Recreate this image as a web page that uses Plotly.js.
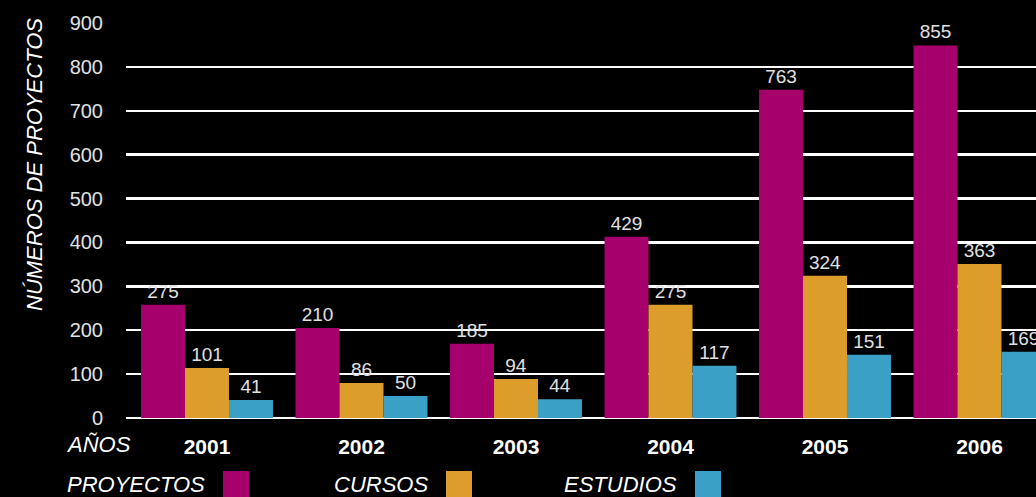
<!DOCTYPE html>
<html>
<head>
<meta charset="utf-8">
<script src="https://cdn.plot.ly/plotly-3.0.1.min.js"></script>
<style>html,body{margin:0;padding:0;background:#000;}</style>
</head>
<body>
<div id="chart" style="width:1036px;height:497px;"></div>
<script>
// Data
const years = ["2001", "2002", "2003", "2004", "2005", "2006"];
const seriesNames = ["PROYECTOS", "CURSOS", "ESTUDIOS"];
// Bar heights as drawn in the picture
const proyectos = [258, 205, 169, 413, 748, 849];
const cursos = [114, 80, 89, 258, 324, 351];
const estudios = [41, 50, 43, 119, 144, 151];
// Value labels printed above the bars
const proyectosLabels = ["275", "210", "185", "429", "763", "855"];
const cursosLabels = ["101", "86", "94", "275", "324", "363"];
const estudiosLabels = ["41", "50", "44", "117", "151", "169"];
const yTicks = [0, 100, 200, 300, 400, 500, 600, 700, 800, 900];

const colors = ["#A5006B", "#DC9D2B", "#3BA0C6"];
const FONT = "Liberation Sans, Arial, Helvetica, sans-serif";

const L = 126, R = 1036, T = 23, B = 418;
const px = x => (x - L) / (R - L);
const py = y => (B - y) / (B - T);

function bar(name, y, labels, color) {
  return {
    type: "bar", name: name, x: years.map((_, i) => i), y: y,
    text: labels, textposition: "outside", cliponaxis: false, constraintext: "none",
    textfont: {family: FONT, size: 19, color: "#e0e0e0"},
    marker: {color: color, line: {width: 0}},
    hoverinfo: "skip"
  };
}

const data = [
  bar(seriesNames[0], proyectos, proyectosLabels, colors[0]),
  bar(seriesNames[1], cursos, cursosLabels, colors[1]),
  bar(seriesNames[2], estudios, estudiosLabels, colors[2])
];

const annotations = [
  {text: "NÚMEROS DE PROYECTOS", xref: "paper", yref: "paper", x: px(34), y: py(165),
   textangle: -90, showarrow: false, xanchor: "center", yanchor: "middle",
   font: {family: FONT, size: 22, color: "#ffffff", style: "italic"}},
  {text: "AÑOS", xref: "paper", yref: "paper", x: px(64), y: py(445),
   showarrow: false, xanchor: "left", yanchor: "middle",
   font: {family: FONT, size: 22, color: "#ffffff", style: "italic"}}
];
const legendText = [207, 430, 679];
const legendBox = [223, 446, 695];
const shapes = [];
seriesNames.forEach((n, i) => {
  annotations.push({text: n, xref: "paper", yref: "paper", x: px(legendText[i]), y: py(484),
    showarrow: false, xanchor: "right", yanchor: "middle",
    font: {family: FONT, size: 22, color: "#ffffff", style: "italic"}});
  shapes.push({type: "rect", xref: "paper", yref: "paper",
    x0: px(legendBox[i]), x1: px(legendBox[i] + 26), y0: py(497), y1: py(471),
    fillcolor: colors[i], line: {width: 0}});
});

const layout = {
  width: 1036, height: 497,
  margin: {l: L, r: 1036 - R, t: T, b: 497 - B, pad: 0},
  paper_bgcolor: "#000000", plot_bgcolor: "#000000",
  barmode: "group", bargap: 0.146, bargroupgap: 0,
  showlegend: false,
  xaxis: {
    range: [-0.5243, 5.3657], tickmode: "array", tickvals: years.map((_, i) => i), ticktext: years,
    showgrid: false, zeroline: false, showline: false, ticks: "",
    ticklabelstandoff: 14,
    tickfont: {family: FONT, size: 21, color: "#ffffff", weight: "bold"}
  },
  yaxis: {
    range: [0, 900], tickmode: "array", tickvals: yTicks,
    showgrid: true, gridcolor: "#ffffff", gridwidth: 2.5,
    zeroline: true, zerolinecolor: "#ffffff", zerolinewidth: 2.5,
    showline: false, ticks: "", ticklabelstandoff: 22,
    tickfont: {family: FONT, size: 20, color: "#e2e2e2"}
  },
  annotations: annotations,
  shapes: shapes,
  font: {family: FONT, color: "#ffffff"}
};

Plotly.newPlot("chart", data, layout, {displayModeBar: false, staticPlot: true});
</script>
</body>
</html>
